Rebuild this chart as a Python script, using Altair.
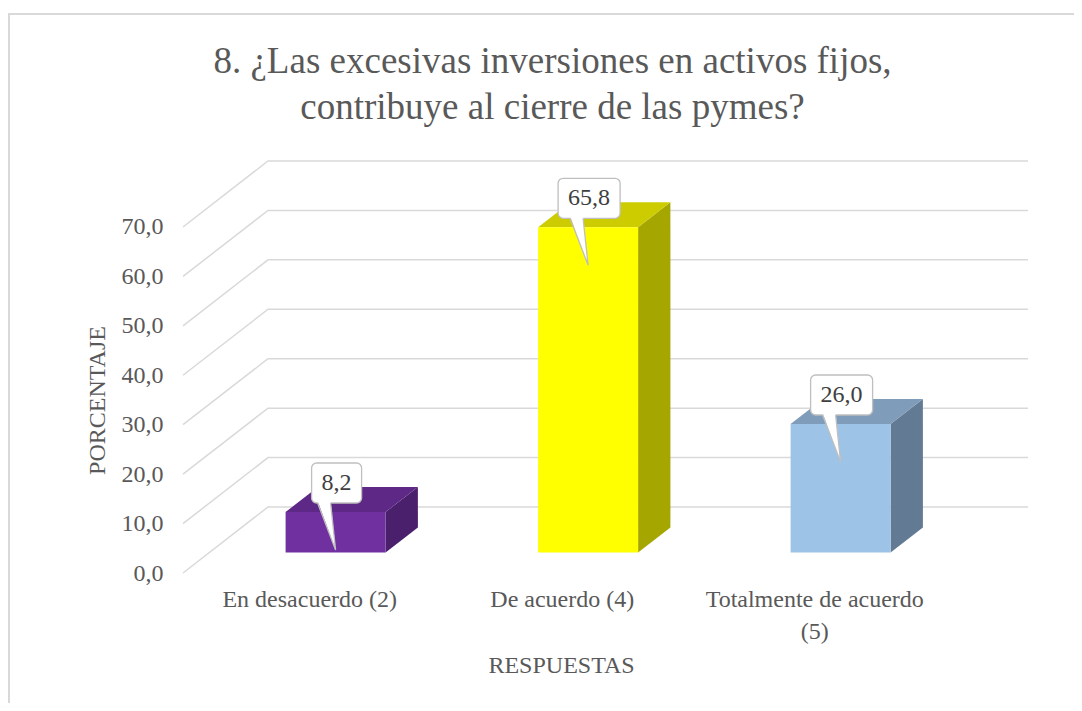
import altair as alt
import pandas as pd

# ---------------- data ----------------
categories = ["En desacuerdo (2)", "De acuerdo (4)", "Totalmente de acuerdo (5)"]
values = [8.2, 65.8, 26.0]
value_labels = ["8,2", "65,8", "26,0"]
y_ticks = [0, 10, 20, 30, 40, 50, 60, 70]
title_lines = ["8. ¿Las excesivas inversiones en activos fijos,",
               "contribuye al cierre de las pymes?"]
x_title = "RESPUESTAS"
y_title = "PORCENTAJE"

# ---------------- style ----------------
front_colors = ["#7030A0", "#FFFF00", "#9DC3E6"]
top_colors = ["#5D2886", "#CCCC00", "#7F9CBB"]
side_colors = ["#4A1F6C", "#A6A600", "#627A94"]
FONT = "Liberation Serif"
TEXT_COLOR = "#595959"
GRID_COLOR = "#D9D9D9"

PLOT_W, PLOT_H = 845, 413
PXU = 252.5          # px per category slot
PXV = 4.943          # px per percentage point
XMAX = PLOT_W / PXU
YMAX = PLOT_H / PXV
DX = 85 / PXU        # depth vector of the 3D box
DV = 66 / PXV
BAR_W = 100 / PXU
F, B = 0.31, 0.69    # bar front / back depth fractions

centers = [i + 0.5 for i in range(len(categories))]

# ---------------- tables ----------------
grid_rows = []
for t in y_ticks:
    grid_rows += [
        {"g": t, "o": 0, "x": 0.0, "y": t},
        {"g": t, "o": 1, "x": DX, "y": t + DV},
        {"g": t, "o": 2, "x": XMAX, "y": t + DV},
    ]
grid_df = pd.DataFrame(grid_rows)

front_rows, top_rows, side_rows = [], [], []
box_rows, tail_rows, edge_rows, text_rows = [], [], [], []
for i, (c, v) in enumerate(zip(centers, values)):
    xl = c - BAR_W / 2 + F * DX
    xr = c + BAR_W / 2 + F * DX
    sh = (B - F) * DX
    front_rows.append({"b": i, "x": xl, "x2": xr, "y": F * DV, "y2": v + F * DV,
                       "col": front_colors[i]})
    top_rows += [
        {"b": i, "y": v + F * DV, "x": xl, "x2": xr, "col": top_colors[i]},
        {"b": i, "y": v + B * DV, "x": xl + sh, "x2": xr + sh, "col": top_colors[i]},
    ]
    side_rows += [
        {"b": i, "x": xr, "y": F * DV, "y2": v + F * DV, "col": side_colors[i]},
        {"b": i, "x": xr + sh, "y": B * DV, "y2": v + B * DV, "col": side_colors[i]},
    ]
    cx = c + F * DX
    top_y = v + F * DV
    lab = value_labels[i]
    tw = sum(0.25 if ch == "," else 0.5 for ch in lab) * 24
    half = (tw + 20) / 2 / PXU
    bx = cx + 1 / PXU
    box_rows.append({"x": bx - half, "x2": bx + half,
                     "y": top_y + 9 / PXV, "y2": top_y + 49 / PXV})
    yb = top_y + 9 / PXV
    tip = top_y - 38 / PXV
    tail_rows += [
        {"b": i, "y": yb + 2 / PXV, "x": cx - 18 / PXU, "x2": cx - 5 / PXU},
        {"b": i, "y": tip, "x": cx, "x2": cx},
    ]
    edge_rows += [
        {"b": i, "o": 0, "x": cx - 18 / PXU, "y": yb},
        {"b": i, "o": 1, "x": cx, "y": tip},
        {"b": i, "o": 2, "x": cx - 5 / PXU, "y": yb},
    ]
    text_rows.append({"x": bx, "y": top_y + 29 / PXV, "t": lab})

# ---------------- axes ----------------
def wrap(s):
    if len(s) > 20 and " (" in s:
        a, b = s.rsplit(" (", 1)
        return [a, "(" + b]
    return s

expr = "''"
for c, cat in reversed(list(zip(centers, categories))):
    w = wrap(cat)
    lit = ("[" + ", ".join("'" + p + "'" for p in w) + "]") if isinstance(w, list) else "'" + w + "'"
    expr = f"(abs(datum.value - {c}) < 0.01) ? {lit} : {expr}"

x_axis = alt.Axis(values=centers, labelExpr=expr, domain=False, ticks=False, grid=False,
                  labelPadding=14, labelFont=FONT, labelFontSize=24, labelColor=TEXT_COLOR,
                  labelLineHeight=32, labelOverlap=False, labelFlush=False, labelLimit=0,
                  title=x_title, titleFont=FONT, titleFontSize=24, titleFontWeight="normal",
                  titleColor=TEXT_COLOR, titleX=378, titleY=92, titleBaseline="middle")
y_axis = alt.Axis(values=y_ticks, labelExpr="replace(format(datum.value, '.1f'), '.', ',')",
                  domain=False, ticks=False, grid=False, labelPadding=20,
                  labelFont=FONT, labelFontSize=24, labelColor=TEXT_COLOR,
                  title=y_title, titleFont=FONT, titleFontSize=24, titleFontWeight="normal",
                  titleColor=TEXT_COLOR, titleX=-86, titleY=240, titleBaseline="middle",
                  titleAngle=270)
xs = alt.Scale(domain=[0, XMAX], nice=False, zero=False)
ys = alt.Scale(domain=[0, YMAX], nice=False, zero=False)


def X(f="x"):
    return alt.X(f + ":Q", scale=xs, axis=x_axis)


def Y(f="y"):
    return alt.Y(f + ":Q", scale=ys, axis=y_axis)


frame = alt.Chart(pd.DataFrame({"a": [0]})).mark_rect(
    fill="white", fillOpacity=0, stroke=GRID_COLOR, strokeWidth=2
).encode(x=alt.value(9 - 183), y=alt.value(14 - 160), x2=alt.value(1500), y2=alt.value(1500))

grid = alt.Chart(grid_df).mark_line(color=GRID_COLOR, strokeWidth=1.5).encode(
    x=X(), y=Y(), detail="g:N", order="o:Q")

side = alt.Chart(pd.DataFrame(side_rows)).mark_area(orient="vertical").encode(
    x=X(), y=Y(), y2="y2:Q", detail="b:N", fill=alt.Fill("col:N", scale=None))

top = alt.Chart(pd.DataFrame(top_rows)).mark_area(orient="horizontal").encode(
    y=Y(), x=X(), x2="x2:Q", detail="b:N", fill=alt.Fill("col:N", scale=None))

front = alt.Chart(pd.DataFrame(front_rows)).mark_rect().encode(
    x=X(), x2="x2:Q", y=Y(), y2="y2:Q", fill=alt.Fill("col:N", scale=None))

box = alt.Chart(pd.DataFrame(box_rows)).mark_rect(
    fill="white", stroke="#BFBFBF", strokeWidth=1.3, cornerRadius=5
).encode(x=X(), x2="x2:Q", y=Y(), y2="y2:Q")

tail = alt.Chart(pd.DataFrame(tail_rows)).mark_area(orient="horizontal", fill="white").encode(
    y=Y(), x=X(), x2="x2:Q", detail="b:N")

edge = alt.Chart(pd.DataFrame(edge_rows)).mark_line(color="#BFBFBF", strokeWidth=1.3).encode(
    x=X(), y=Y(), detail="b:N", order="o:Q")

text = alt.Chart(pd.DataFrame(text_rows)).mark_text(
    font=FONT, fontSize=24, color="#404040", baseline="middle", align="center"
).encode(x=X(), y=Y(), text="t:N")

TOTAL_W, TOTAL_H = 1066, 695
chart = alt.layer(frame, grid, side, top, front, box, tail, edge, text).properties(
    width=PLOT_W, height=PLOT_H,
    autosize=alt.AutoSizeParams(type="none"),
    padding={"left": 175, "top": 152, "right": TOTAL_W - 175 - PLOT_W,
             "bottom": TOTAL_H - 152 - PLOT_H},
    background="white",
    title=alt.TitleParams(text=title_lines, font=FONT, fontSize=37, fontWeight="normal",
                          color=TEXT_COLOR, anchor="middle", dx=-53, dy=114,
                          lineHeight=46, offset=0),
).configure_view(strokeWidth=0)

chart.save("out.html", embed_options={"renderer": "svg", "actions": False})
